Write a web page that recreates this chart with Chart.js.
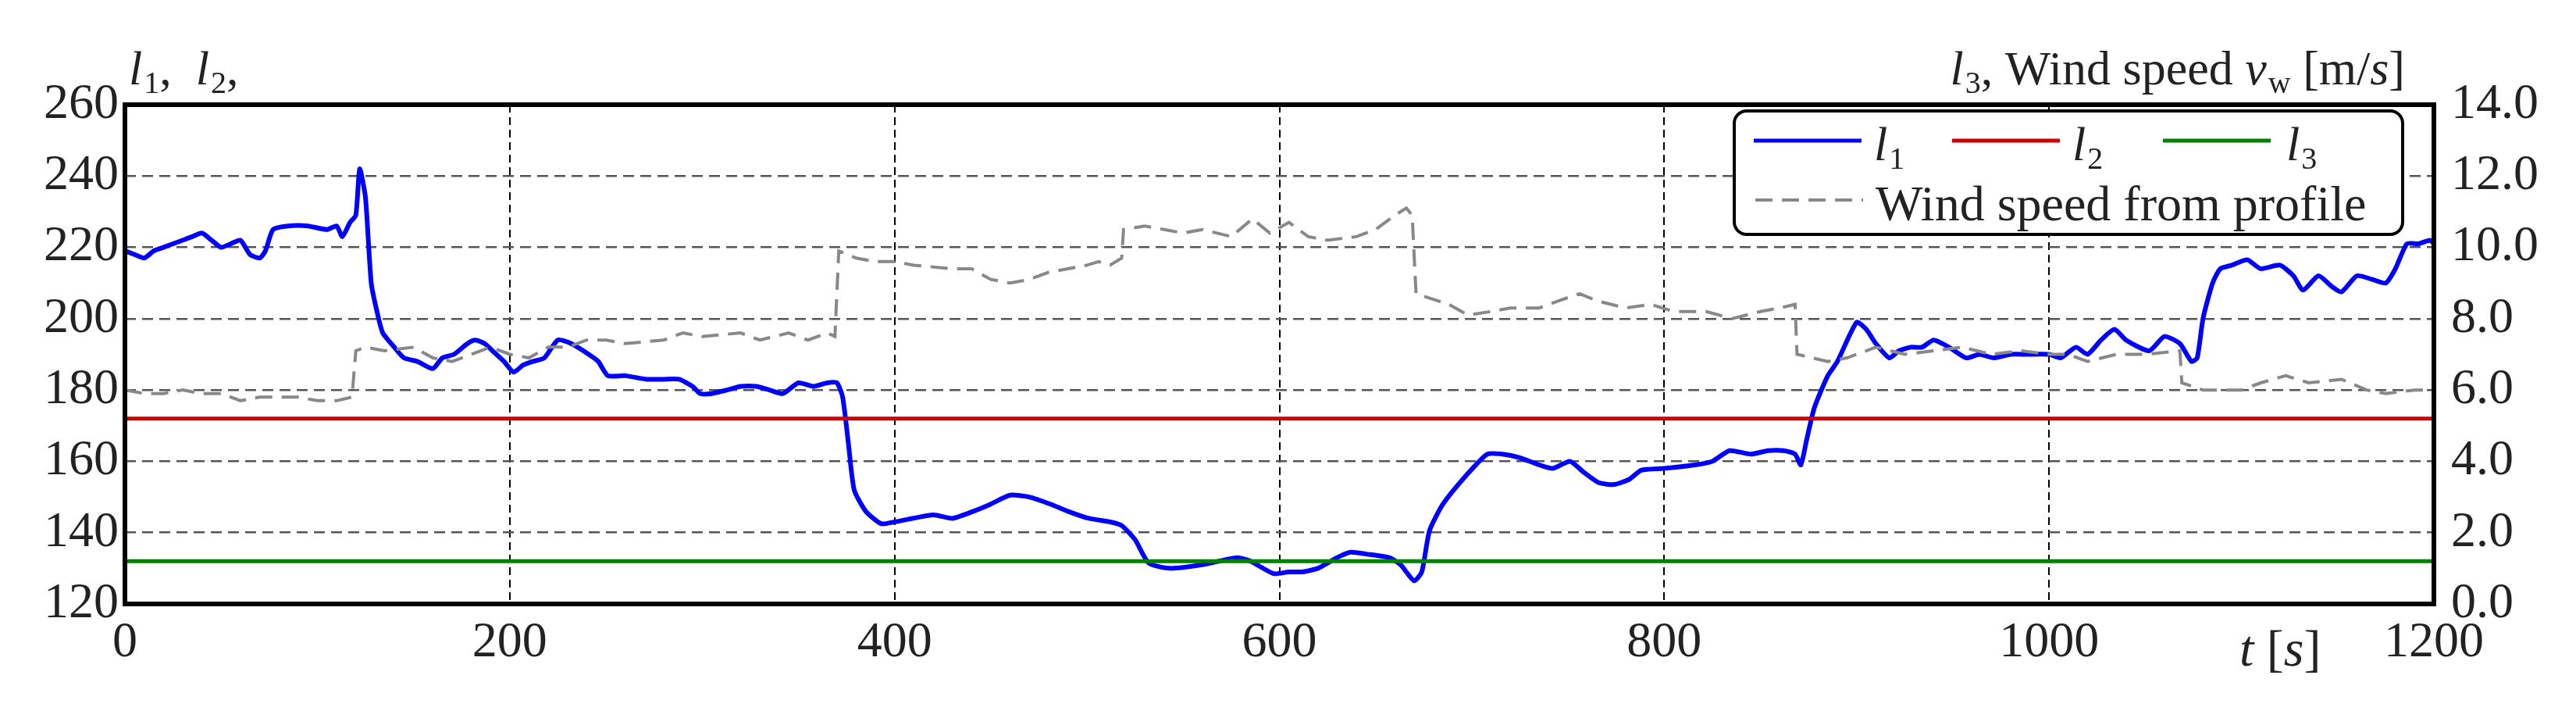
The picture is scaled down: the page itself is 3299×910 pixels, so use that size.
<!DOCTYPE html>
<html><head><meta charset="utf-8">
<script src="https://cdn.jsdelivr.net/npm/chart.js@4/dist/chart.umd.min.js"></script>
<style>html,body{margin:0;padding:0;background:#fff}#c{display:block}</style>
</head><body>
<div style="width:3299px;height:910px"><canvas id="c" width="3299" height="910"></canvas></div>
<script>
const xTicks = [0,200,400,600,800,1000,1200];
const leftTicks = [120,140,160,180,200,220,240,260];
const rightTicks = [0,2,4,6,8,10,12,14];
const L2_LEVEL = 172;
const L3_LEVEL = 132;
const l1T = [0,5,10,15,20,25,30,35,40,45,50,55,60,65,70,73,77,85,95,105,110,113,117,120,122,125,128,131,134,140,145,152,160,165,171,178,182,187,191,197,202,207,212,218,225,232,241,246,251,260,271,280,288,295,299,305,313,320,328,335,342,350,358,365,370,373,376,379,385,393,400,420,430,441,450,460,470,481,490,501,512,518,525,532,543,560,578,585,597,605,612,620,630,637,645,657,663,670,674,678,685,697,708,716,725,735,742,751,758,766,774,782,788,800,816,825,834,845,854,862,868,871,874,878,885,890,900,905,910,917,922,928,934,940,948,957,964,971,980,988,1000,1006,1014,1020,1027,1034,1040,1052,1060,1068,1074,1077,1080,1085,1089,1095,1103,1110,1120,1127,1132,1140,1147,1152,1160,1168,1175,1180,1186,1192,1198,1200];
const l1V = [219,218,217,219,220,221,222,223,224,222,220,221,222,218,217,219,225,226,226,225,226,223,227,229,242,234,210,202,196,192,189,188,186,189,190,193,194,193,191,188,185,187,188,189,194,193,190,188,184,184,183,183,183,181,179,179,180,181,181,180,179,182,181,182,182,178,165,152,146,142.5,143,145,144,146,148,150.5,150,148,146,144,143,142,138,131.5,130,131,133,132,128.5,129,129,130,133,134.5,134,133,131,126.5,129,140.5,148,156,162,162,161,159,158,160,157,154,153.5,155,157.5,158,159,160,163,162,163,163,162,159,166,175,184,188,199,197,193,189,191,192,192,194,192,189,190,189,190,190,190,189,192,190,194,197,194,191,195,193,188,189,200,210,214,215,216.5,214,215,212,208,212,209,207.5,212,211,210,214,221,221,222,221];
const windT = [0,10,20,30,40,50,60,70,80,90,100,110,118,120,125,135,150,160,170,180,190,200,210,220,230,240,250,260,280,290,300,320,330,345,355,365,369,371,380,390,400,410,430,440,450,460,470,480,490,500,506,512,518,519,530,540,550,560,575,586,595,605,615,625,640,650,660,666,669,671,688,698,710,720,735,745,756,765,780,793,805,822,835,850,860,868,869,885,895,910,925,940,955,970,985,1000,1010,1020,1035,1050,1068,1069,1080,1100,1110,1123,1135,1152,1165,1175,1190,1200];
const windV = [6.0,5.9,5.9,6.0,5.9,5.9,5.7,5.8,5.8,5.8,5.7,5.7,5.8,7.1,7.2,7.1,7.2,6.9,6.8,7.0,7.2,7.0,6.9,7.2,7.2,7.4,7.4,7.3,7.4,7.6,7.5,7.6,7.4,7.6,7.4,7.6,7.5,9.9,9.7,9.6,9.6,9.5,9.4,9.4,9.1,9.0,9.1,9.3,9.4,9.5,9.6,9.5,9.7,10.5,10.6,10.5,10.4,10.5,10.3,10.8,10.4,10.7,10.3,10.2,10.3,10.5,10.9,11.1,10.9,8.7,8.4,8.1,8.2,8.3,8.3,8.5,8.7,8.5,8.3,8.4,8.2,8.2,8.0,8.2,8.3,8.4,7.0,6.8,6.9,7.2,7.0,7.1,7.2,7.0,7.1,7.0,7.0,6.8,7.0,7.0,7.1,6.2,6.0,6.0,6.2,6.4,6.2,6.3,6.0,5.9,6.0,6.0];

const FONT = 'Liberation Serif';
Chart.defaults.font.family = FONT;
const pts = (t,v)=>t.map((x,i)=>({x:x,y:v[i]}));

function sym(ctx, x, y, main, sub, size){
  ctx.font = 'italic '+size+'px "'+FONT+'"'; ctx.fillText(main,x,y); x+=ctx.measureText(main).width+2;
  if(sub){ctx.font = Math.round(size*0.65)+'px "'+FONT+'"'; ctx.fillText(sub,x,y+size*0.18); x+=ctx.measureText(sub).width;}
  return x;
}
function txt(ctx,x,y,s,size,italic){ctx.font=(italic?'italic ':'')+size+'px "'+FONT+'"';ctx.fillText(s,x,y);return x+ctx.measureText(s).width;}

const deco = {id:'deco', afterDraw(chart){
  const ctx=chart.ctx, a=chart.chartArea;
  ctx.save();
  ctx.strokeStyle='#000'; ctx.lineWidth=6; ctx.setLineDash([]);
  ctx.strokeRect(a.left,a.top,a.right-a.left,a.bottom-a.top);
  ctx.fillStyle='#222'; ctx.textBaseline='alphabetic'; ctx.textAlign='left';
  const S=62;
  let x=165; x=sym(ctx,x,108,'l','1',S); x=txt(ctx,x,108,',  ',S); x=sym(ctx,x,108,'l','2',S); txt(ctx,x,108,',',S);
  const drawRT=(x0)=>{let x=x0;
    x=sym(ctx,x,108,'l','3',S); x=txt(ctx,x,108,', Wind speed ',S); x=sym(ctx,x,108,'v','w',S); x=txt(ctx,x,108,' [m/',S); x=txt(ctx,x,108,'s',S,true); x=txt(ctx,x,108,']',S);
    return x;};
  ctx.save(); ctx.globalAlpha=0; const w=drawRT(0); ctx.restore();
  drawRT(3080-w);
  let tx=2868; tx=txt(ctx,tx,852,'t',S+4,true); tx=txt(ctx,tx,852,' [',S+4); tx=txt(ctx,tx,852,'s',S+4,true); txt(ctx,tx,852,']',S+4);
  const bx=2221,by=142,bw=856,bh=158,r=16;
  ctx.fillStyle='#fff'; ctx.strokeStyle='#000'; ctx.lineWidth=4;
  ctx.beginPath(); ctx.roundRect(bx,by,bw,bh,r); ctx.fill(); ctx.stroke();
  const items=[['#0000ff',2246,2400,'1'],['#cc0000',2500,2654,'2'],['#008000',2770,2928,'3']];
  ctx.lineWidth=5;
  items.forEach(([c,lx,tx2,sub])=>{ctx.strokeStyle=c;ctx.beginPath();ctx.moveTo(lx,180);ctx.lineTo(lx+138,180);ctx.stroke();
    ctx.fillStyle='#222'; sym(ctx,tx2,205,'l',sub,S);});
  ctx.strokeStyle='#888'; ctx.lineWidth=4; ctx.setLineDash([22,12]);
  ctx.beginPath(); ctx.moveTo(2248,256); ctx.lineTo(2386,256); ctx.stroke(); ctx.setLineDash([]);
  ctx.fillStyle='#222'; txt(ctx,2402,282,'Wind speed from profile',S+2);
  ctx.restore();
}};

new Chart(document.getElementById('c'), {
  type:'line',
  data:{datasets:[
    {label:'Wind speed from profile', data:pts(windT,windV), yAxisID:'y2', borderColor:'#888', borderWidth:4, borderDash:[22,12], pointRadius:0, tension:0},
    {label:'l2', data:[{x:0,y:L2_LEVEL},{x:1200,y:L2_LEVEL}], yAxisID:'y', borderColor:'#cc0000', borderWidth:5, pointRadius:0},
    {label:'l3', data:[{x:0,y:L3_LEVEL},{x:1200,y:L3_LEVEL}], yAxisID:'y', borderColor:'#008000', borderWidth:5, pointRadius:0},
    {label:'l1', data:pts(l1T,l1V), yAxisID:'y', borderColor:'#0000ff', borderWidth:6, pointRadius:0, tension:0.2}
  ]},
  options:{
    responsive:false, animation:false, devicePixelRatio:1,
    layout:{padding:{top:134,left:0,right:0,bottom:0}},
    plugins:{legend:{display:false}, tooltip:{enabled:false}},
    scales:{
      x:{type:'linear', min:0, max:1200, afterBuildTicks:s=>{s.ticks=xTicks.map(v=>({value:v}));},
        afterFit:s=>{s.height=137;},
        ticks:{color:'#222', font:{family:FONT,size:64}, padding:12, maxRotation:0, autoSkip:false, callback:v=>String(v)},
        border:{display:false, dash:[10,6]},
        grid:{color:c=>(c.tick&&(c.tick.value===0||c.tick.value===1200))?'rgba(0,0,0,0)':'#000', lineWidth:2, tickLength:0}},
      y:{position:'left', min:120, max:260, afterBuildTicks:s=>{s.ticks=leftTicks.map(v=>({value:v}));},
        afterFit:s=>{s.width=160;},
        ticks:{color:'#222', font:{family:FONT,size:64}, padding:8, callback:v=>String(v)},
        border:{display:false, dash:[14,8]},
        grid:{color:c=>(c.tick&&(c.tick.value===120||c.tick.value===260))?'rgba(0,0,0,0)':'#555', lineWidth:2.5, tickLength:0}},
      y2:{position:'right', min:0, max:14, afterBuildTicks:s=>{s.ticks=rightTicks.map(v=>({value:v}));},
        afterFit:s=>{s.width=182;},
        ticks:{color:'#222', font:{family:FONT,size:64}, padding:14, callback:v=>Number(v).toFixed(1)},
        border:{display:false}, grid:{display:false}}
    }
  },
  plugins:[deco]
});
</script>
</body></html>
